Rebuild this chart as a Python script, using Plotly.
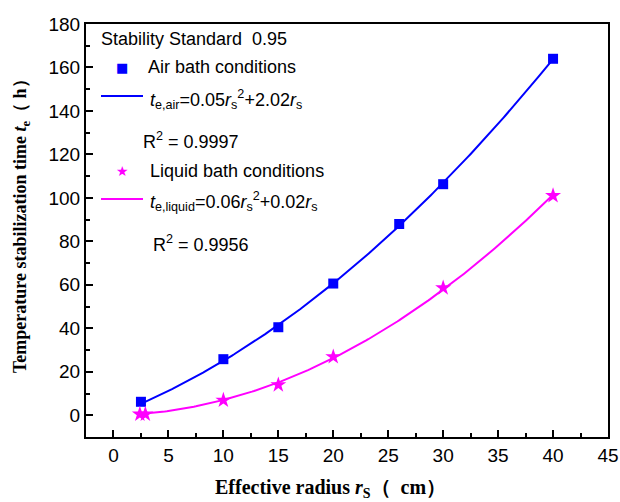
import numpy as np
import plotly.graph_objects as go

# Data
air_r = [2.5, 10, 15, 20, 26, 30, 40]
air_t = [6.2, 25.8, 40.5, 60.6, 88, 106.3, 164]
liq_r = [2.4, 2.9, 10, 15, 20, 30, 40]
liq_t = [0.5, 0.5, 6.9, 14, 26.9, 58.6, 101]

x_ticks = [0, 5, 10, 15, 20, 25, 30, 35, 40, 45]
y_ticks = [0, 20, 40, 60, 80, 100, 120, 140, 160, 180]

BLUE = "#0000FF"
MAG = "#FF00FF"


def fit_no_intercept(x, y):
    x = np.asarray(x, float)
    y = np.asarray(y, float)
    A = np.column_stack([x ** 2, x])
    coef, *_ = np.linalg.lstsq(A, y, rcond=None)
    xs = np.linspace(x.min(), x.max(), 200)
    return xs, coef[0] * xs ** 2 + coef[1] * xs


air_fx, air_fy = fit_no_intercept(air_r, air_t)
liq_fx, liq_fy = fit_no_intercept(liq_r, liq_t)

fig = go.Figure()
fig.add_trace(go.Scatter(x=air_fx, y=air_fy, mode="lines",
                         line=dict(color=BLUE, width=2), showlegend=False))
fig.add_trace(go.Scatter(x=liq_fx, y=liq_fy, mode="lines",
                         line=dict(color=MAG, width=2), showlegend=False))
fig.add_trace(go.Scatter(x=air_r, y=air_t, mode="markers",
                         marker=dict(symbol="square", size=10, color=BLUE),
                         showlegend=False))
fig.add_trace(go.Scatter(x=liq_r, y=liq_t, mode="markers",
                         marker=dict(symbol="star", size=12, color=MAG),
                         showlegend=False))

axis_common = dict(
    showline=True, linecolor="black", linewidth=2, mirror=True,
    ticks="inside", ticklen=7, tickwidth=1.5, tickcolor="black",
    showgrid=False, zeroline=False, automargin=False,
    tickfont=dict(family="Liberation Sans, Arial", size=19, color="black"),
)

fig.update_xaxes(
    range=[-2.5, 45], tickvals=x_ticks, ticktext=[str(v) for v in x_ticks],
    minor=dict(ticks="inside", ticklen=4, tickcolor="black", dtick=2.5, tick0=0, showgrid=False),
    **axis_common,
)
fig.update_yaxes(
    range=[-10, 180], tickvals=y_ticks, ticktext=[str(v) for v in y_ticks],
    minor=dict(ticks="inside", ticklen=4, tickcolor="black", dtick=10, tick0=0, showgrid=False),
    **axis_common,
)

TF = dict(family="Liberation Sans, Arial", size=18, color="black")
TITLE_F = dict(family="Liberation Serif, Times New Roman", size=20, color="black")


def px2paper(px, py):
    return (px - 86) / 522.0, (437 - py) / 413.0


annots = []


def add_text(px, py, text, font=TF):
    x, y = px2paper(px, py)
    annots.append(dict(x=x, y=y, xref="paper", yref="paper", text=text,
                       showarrow=False, xanchor="left", yanchor="middle", font=font))


add_text(99, 39, "Stability Standard  0.95")
add_text(146, 67, "Air bath conditions")
add_text(148, 99, "<i>t</i><sub>e,air</sub>=0.05<i>r</i><sub>s</sub><sup>2</sup>+2.02<i>r</i><sub>s</sub>")
add_text(141, 140, "R<sup>2</sup> = 0.9997")
add_text(148, 171, "Liquid bath conditions")
add_text(148, 201, "<i>t</i><sub>e,liquid</sub>=0.06<i>r</i><sub>s</sub><sup>2</sup>+0.02<i>r</i><sub>s</sub>")
add_text(151, 243, "R<sup>2</sup> = 0.9956")

# axis titles
tx, ty = px2paper(330, 488)
annots.append(dict(x=tx, y=ty, xref="paper", yref="paper", showarrow=False,
                   text="<b>Effective radius <i>r</i><sub>S</sub>（  cm）</b>",
                   xanchor="center", yanchor="middle", font=TITLE_F))
tx, ty = px2paper(21, 222)
annots.append(dict(x=tx, y=ty, xref="paper", yref="paper", showarrow=False, textangle=-90,
                   text="<b>Temperature stabilization time <i>t</i><sub>e</sub>（ h）</b>",
                   xanchor="center", yanchor="middle",
                   font=dict(family="Liberation Serif, Times New Roman", size=18, color="black")))

# legend symbols
sx, sy = px2paper(122, 67)
annots.append(dict(x=sx, y=sy, xref="paper", yref="paper", text="■", showarrow=False,
                   xanchor="center", yanchor="middle",
                   font=dict(family="DejaVu Sans", size=13, color=BLUE)))
sx, sy = px2paper(122, 171)
annots.append(dict(x=sx, y=sy, xref="paper", yref="paper", text="★", showarrow=False,
                   xanchor="center", yanchor="middle",
                   font=dict(family="DejaVu Sans", size=14, color=MAG)))

shapes = []
for py, col in [(96, BLUE), (199, MAG)]:
    x0, y0 = px2paper(101, py)
    x1, _ = px2paper(143, py)
    shapes.append(dict(type="line", xref="paper", yref="paper", x0=x0, x1=x1, y0=y0, y1=y0,
                       line=dict(color=col, width=2)))

fig.update_layout(
    width=620, height=502,
    margin=dict(l=86, r=12, t=24, b=65),
    paper_bgcolor="white", plot_bgcolor="white",
    annotations=annots, shapes=shapes,
    showlegend=False,
)

fig.write_html("out.html", config={"displayModeBar": False},
               post_script="document.body.style.margin='0';document.body.style.overflow='hidden';")
